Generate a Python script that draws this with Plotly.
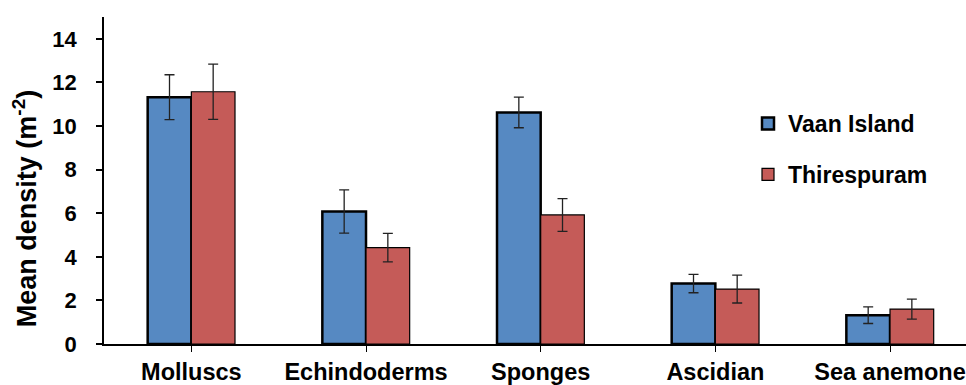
import plotly.graph_objects as go

categories = ["Molluscs", "Echindoderms", "Sponges", "Ascidian", "Sea anemone"]
vaan_island = [11.32, 6.08, 10.62, 2.77, 1.32]
vaan_err = [1.03, 0.99, 0.70, 0.42, 0.38]
thirespuram = [11.57, 4.42, 5.92, 2.52, 1.60]
thires_err = [1.27, 0.65, 0.75, 0.64, 0.46]
y_ticks = [0, 2, 4, 6, 8, 10, 12, 14]

FONT = "Liberation Sans, Arial, sans-serif"
L, T, B, W, H = 104, 16.5, 39.3, 966, 385
PW, PH = W - L, H - T - B

fig = go.Figure()
fig.add_trace(go.Bar(
    name="Vaan Island", x=categories, y=vaan_island,
    marker=dict(color="#5689C2", line=dict(color="black", width=2.5)),
    error_y=dict(type="data", array=vaan_err, color="#222222", thickness=1.3, width=5),
    legendgroup="a",
))
fig.add_trace(go.Bar(
    name="Thirespuram", x=categories, y=thirespuram,
    marker=dict(color="#C55B58", line=dict(color="black", width=1.2)),
    error_y=dict(type="data", array=thires_err, color="#222222", thickness=1.3, width=5),
    legendgroup="b",
))

fig.update_layout(
    width=W, height=H,
    margin=dict(l=L, r=0, t=T, b=B),
    paper_bgcolor="white", plot_bgcolor="white",
    barmode="group", bargap=0.5, bargroupgap=0,
    font=dict(family=FONT, color="black", size=22, weight="bold"),
    legend=dict(
        x=(748 - L) / PW, y=(H - B - 102) / PH, xanchor="left", yanchor="top",
        font=dict(family=FONT, size=23, weight="bold"),
        tracegroupgap=18, traceorder="grouped", bgcolor="rgba(0,0,0,0)",
    ),
    showlegend=True,
    annotations=[dict(
        text="Mean density (m<sup>-2</sup>)", textangle=-90,
        xref="paper", yref="paper", x=(25 - L) / PW, y=(H - B - 210) / PH,
        xanchor="center", yanchor="middle", showarrow=False,
        font=dict(family=FONT, size=27, weight="bold", color="black"),
    )],
)
fig.update_xaxes(
    range=[-0.5, 4.435], showline=True, linecolor="black", linewidth=1.5,
    ticks="outside", ticklen=6, tickcolor="black", tickwidth=1.2,
    tickfont=dict(family=FONT, size=23.5, weight="bold"),
    showgrid=False, zeroline=False,
)
fig.update_yaxes(
    range=[0, 15], tickvals=y_ticks, showline=True, linecolor="black", linewidth=1.5,
    ticks="outside", ticklen=6, tickcolor="black", tickwidth=1.5,
    tickfont=dict(family=FONT, size=22, weight="bold"), ticklabelstandoff=15,
    showgrid=False, zeroline=False,
)

fig.write_html(
    "out.html",
    config={"displayModeBar": False},
    post_script="document.body.style.margin='0';document.body.style.padding='0';",
)
